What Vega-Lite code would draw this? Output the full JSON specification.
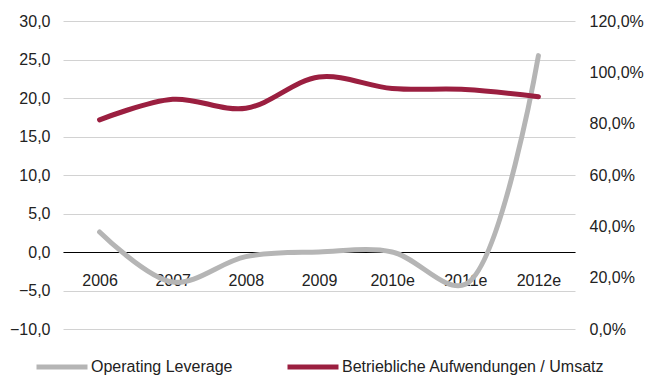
{
  "$schema": "https://vega.github.io/schema/vega-lite/v6.json",
  "width": 512,
  "height": 308,
  "autosize": "none",
  "padding": {"left": 63, "top": 21, "right": 75, "bottom": 47},
  "background": "white",
  "config": {
    "view": {"stroke": null},
    "font": "Liberation Sans",
    "locale": {"number": {"decimal": ",", "thousands": ".", "grouping": [3], "currency": ["", " €"]}},
    "axis": {"labelFont": "Liberation Sans", "labelFontSize": 16, "labelColor": "#222222", "title": null}
  },
  "data": {
    "values": [
      {"year": "2006", "series": "Operating Leverage", "value": 2.6},
      {"year": "2007", "series": "Operating Leverage", "value": -3.9},
      {"year": "2008", "series": "Operating Leverage", "value": -0.6},
      {"year": "2009", "series": "Operating Leverage", "value": 0.0},
      {"year": "2010e", "series": "Operating Leverage", "value": 0.0},
      {"year": "2011e", "series": "Operating Leverage", "value": -4.2},
      {"year": "2012e", "series": "Operating Leverage", "value": 25.5},
      {"year": "2006", "series": "Betriebliche Aufwendungen / Umsatz", "value": 0.815},
      {"year": "2007", "series": "Betriebliche Aufwendungen / Umsatz", "value": 0.895},
      {"year": "2008", "series": "Betriebliche Aufwendungen / Umsatz", "value": 0.86},
      {"year": "2009", "series": "Betriebliche Aufwendungen / Umsatz", "value": 0.982},
      {"year": "2010e", "series": "Betriebliche Aufwendungen / Umsatz", "value": 0.937},
      {"year": "2011e", "series": "Betriebliche Aufwendungen / Umsatz", "value": 0.933},
      {"year": "2012e", "series": "Betriebliche Aufwendungen / Umsatz", "value": 0.905}
    ]
  },
  "encoding": {
    "x": {
      "field": "year",
      "type": "ordinal",
      "sort": null,
      "scale": {"type": "point", "padding": 0.5},
      "axis": {
        "orient": "bottom",
        "offset": -77,
        "domain": true,
        "domainColor": "#000000",
        "domainWidth": 1,
        "ticks": false,
        "grid": false,
        "labelAngle": 0,
        "labelPadding": 20,
        "zindex": 0
      }
    },
    "color": {
      "field": "series",
      "type": "nominal",
      "scale": {
        "domain": ["Operating Leverage", "Betriebliche Aufwendungen / Umsatz"],
        "range": ["#b5b5b5", "#9b1f40"]
      },
      "legend": {
        "orient": "none",
        "direction": "horizontal",
        "legendX": -29,
        "legendY": 318,
        "title": null,
        "symbolType": "stroke",
        "symbolSize": 2601,
        "symbolStrokeWidth": 5,
        "labelFont": "Liberation Sans",
        "labelFontSize": 16,
        "labelColor": "#222222",
        "labelOffset": 1,
        "columnPadding": 44,
        "labelLimit": 400
      }
    }
  },
  "layer": [
    {
      "transform": [{"filter": "datum.series === 'Operating Leverage'"}],
      "mark": {"type": "line", "interpolate": "catmull-rom", "strokeWidth": 5, "strokeCap": "round"},
      "encoding": {
        "y": {
          "field": "value",
          "type": "quantitative",
          "scale": {"domain": [-10, 30], "nice": false, "zero": false},
          "axis": {
            "orient": "left",
            "values": [-10, -5, 0, 5, 10, 15, 20, 25, 30],
            "format": ".1f",
            "domain": false,
            "ticks": false,
            "grid": true,
            "gridColor": "#d2d2d2",
            "gridWidth": 1,
            "labelPadding": 13,
            "zindex": 0
          }
        }
      }
    },
    {
      "transform": [{"filter": "datum.series !== 'Operating Leverage'"}],
      "mark": {"type": "line", "interpolate": "catmull-rom", "strokeWidth": 5, "strokeCap": "round"},
      "encoding": {
        "y": {
          "field": "value",
          "type": "quantitative",
          "scale": {"domain": [0, 1.2], "nice": false, "zero": false},
          "axis": {
            "orient": "right",
            "values": [0, 0.2, 0.4, 0.6, 0.8, 1.0, 1.2],
            "format": ".1%",
            "domain": false,
            "ticks": false,
            "grid": false,
            "labelPadding": 14
          }
        }
      }
    }
  ],
  "resolve": {"scale": {"y": "independent"}}
}
